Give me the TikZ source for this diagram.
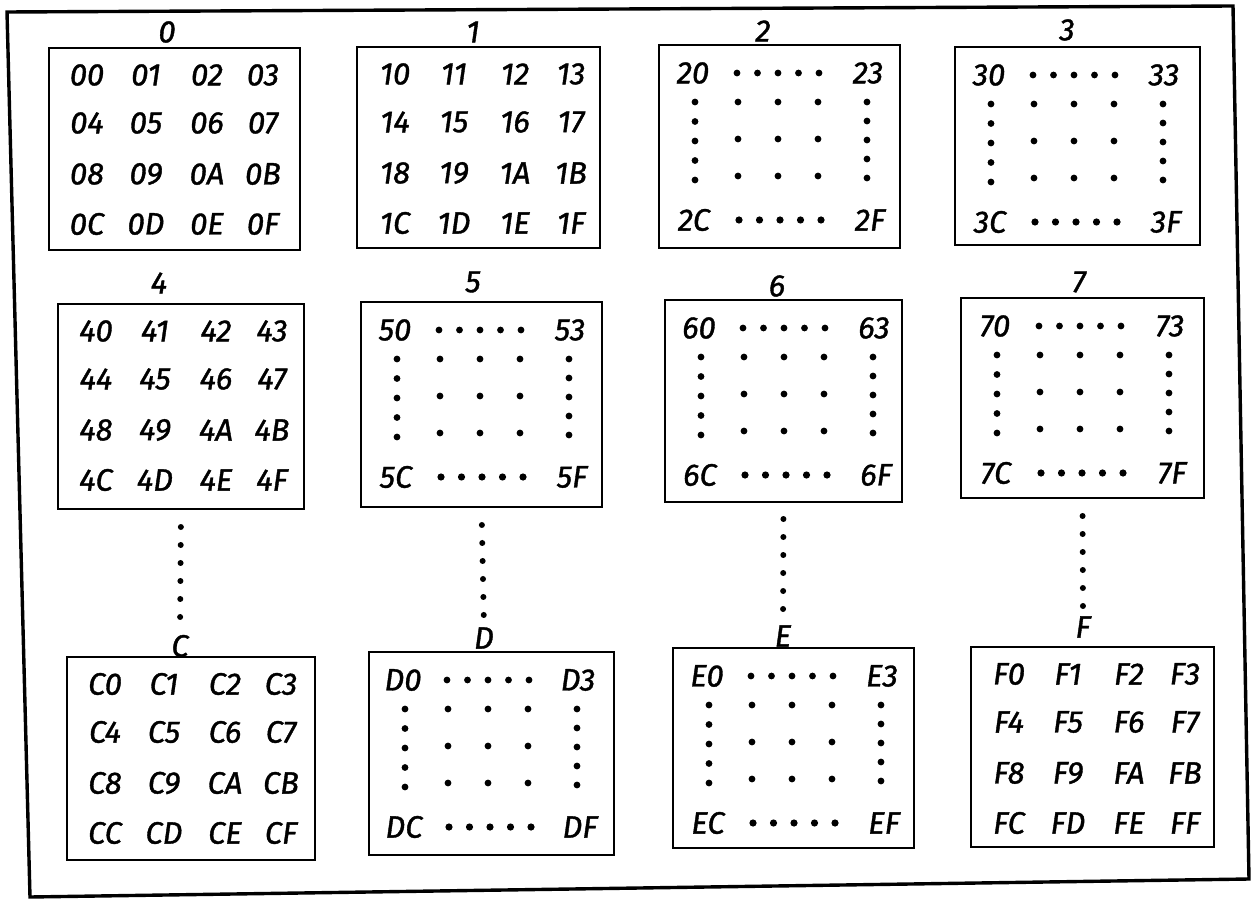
\documentclass[tikz,border=0pt]{standalone}
\usepackage{fontspec}
\setmainfont{Fira Sans}
\newfontfamily\handfont{Fira Sans}[FakeBold=1.2]
\begin{document}
\begin{tikzpicture}[x=1pt,y=-1pt,
  box/.style={draw, line width=2.8pt, rectangle, anchor=north west, inner sep=0pt, outer sep=0pt},
  cell/.style={font=\handfont\fontsize{31}{31}\selectfont\itshape, inner sep=0pt},
  lab/.style={font=\handfont\fontsize{31}{31}\selectfont\itshape, inner sep=0pt},
  frame/.style={line width=3.4pt, line join=miter},
  dotline/.style={line width=6pt, line cap=round, dash pattern=on 0pt off 18pt},
  gdot/.style={fill=black}
]
\useasboundingbox (0,0) rectangle (1256,901);
% outer frame
\coordinate (fTL) at (7,12);
\coordinate (fTR) at (1233,6);
\coordinate (fBR) at (1249,879);
\coordinate (fBL) at (30,897);
\draw[frame] (fTL) -- (fTR) -- (fBR) -- (fBL) -- cycle;
% boxes
\foreach \n/\L/\T/\R/\B in {0/49/48/300/250, 1/357/47/600/248, 2/659/45/900/248, 3/955/47/1200/245,
  4/58/304/304/509, 5/361/302/602/507, 6/665/300/902/502, 7/961/298/1204/498,
  C/67/657/315/860, D/369/652/614/855, E/673/648/914/848, F/971/647/1214/847}{
  \node[box, minimum width={\R-\L}, minimum height={\B-\T}] (b\n) at (\L,\T) {};
}
% labels
\foreach \n/\X/\Y in {0/167/32, 1/473/32, 2/763/31, 3/1067/30, 4/159/283, 5/473/282, 6/777/286, 7/1079/282,
  C/180/646, D/484/638, E/783/636, F/1083/627}{
  \node[lab] (l\n) at (\X,\Y) {\n};
}
% full boxes
\foreach \b in {0,1,4,C,F}{
  \foreach \t [count=\i from 0] in {0,1,2,3,4,5,6,7,8,9,A,B,C,D,E,F}{
    \pgfmathtruncatemacro\cc{mod(\i,4)}
    \pgfmathtruncatemacro\rr{div(\i,4)}
    \pgfmathsetmacro\dx{{38,97,158,214}[\cc]}
    \pgfmathsetmacro\dy{{27,75,126,176}[\rr]}
    \node[cell] (c\b\t) at ([shift={(\dx,\dy)}]b\b.north west) {\b\t};
  }
}
% dotted boxes
\foreach \b in {2,3,5,6,7,D,E}{
  \node[cell] (c\b0) at ([shift={(34,28)}]b\b.north west) {\b0};
  \node[cell] (c\b3) at ([shift={(209,28)}]b\b.north west) {\b3};
  \node[cell] (c\b C) at ([shift={(35,175)}]b\b.north west) {\b C};
  \node[cell] (c\b F) at ([shift={(211,175)}]b\b.north west) {\b F};
  \foreach \k in {0,...,4}{
    \fill[gdot] ([shift={({78+20.5*\k},28)}]b\b.north west) circle (3.4pt);
    \fill[gdot] ([shift={({80+20.5*\k},175)}]b\b.north west) circle (3.6pt);
    \fill[gdot] ([shift={(36,{57+19.5*\k})}]b\b.north west) circle (3.4pt);
    \fill[gdot] ([shift={(208,{57+19*\k})}]b\b.north west) circle (3.4pt);
  }
  \foreach \gx in {79,119,159}{
    \foreach \gy in {57,94,131}{
      \fill[gdot] ([shift={(\gx,\gy)}]b\b.north west) circle (3.4pt);
    }
  }
}
% vertical dotted connectors
\draw[dotline, shorten <=18pt, shorten >=12pt] (b4.south) -- (lC.north);
\draw[dotline, shorten <=18pt, shorten >=10pt] (b5.south) -- (lD.north);
\draw[dotline, shorten <=17pt, shorten >=12pt] (b6.south) -- (lE.north);
\draw[dotline, shorten <=18pt, shorten >=3pt] (b7.south) -- (lF.north);
\end{tikzpicture}
\end{document}
